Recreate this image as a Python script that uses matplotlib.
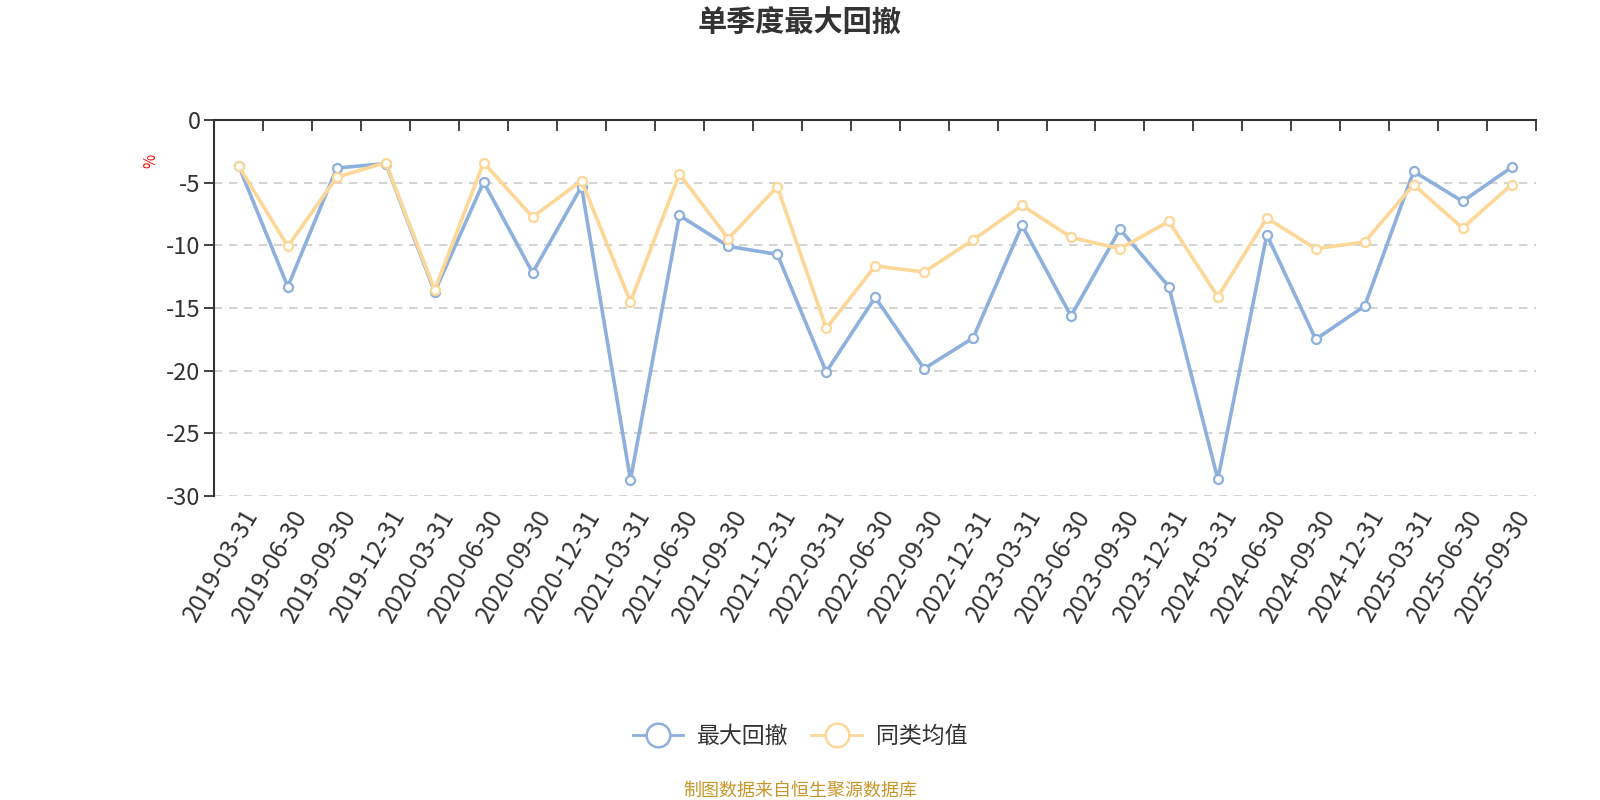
import numpy as np
import matplotlib.pyplot as plt
from matplotlib.lines import Line2D

plt.rcParams['font.family'] = ['Noto Sans CJK SC', 'DejaVu Sans']
plt.rcParams['axes.unicode_minus'] = False

# datos
fechas = ['2019-03-31', '2019-06-30', '2019-09-30', '2019-12-31',
          '2020-03-31', '2020-06-30', '2020-09-30', '2020-12-31',
          '2021-03-31', '2021-06-30', '2021-09-30', '2021-12-31',
          '2022-03-31', '2022-06-30', '2022-09-30', '2022-12-31',
          '2023-03-31', '2023-06-30', '2023-09-30', '2023-12-31',
          '2024-03-31', '2024-06-30', '2024-09-30', '2024-12-31',
          '2025-03-31', '2025-06-30', '2025-09-30']
max_huiche = [-3.7, -13.3, -3.83, -3.48, -13.72, -4.95, -12.18, -5.32,
              -28.72, -7.61, -10.08, -10.72, -20.1, -14.15, -19.84, -17.39,
              -8.4, -15.64, -8.72, -13.3, -28.67, -9.15, -17.5, -14.84,
              -4.1, -6.49, -3.78]
tonglei = [-3.7, -10.08, -4.57, -3.4, -13.56, -3.4, -7.74, -4.84,
           -14.52, -4.31, -9.47, -5.32, -16.62, -11.65, -12.13, -9.57,
           -6.81, -9.36, -10.27, -8.09, -14.1, -7.82, -10.27, -9.73,
           -5.16, -8.62, -5.16]
yticks = [0, -5, -10, -15, -20, -25, -30]

azul = '#8eb0dc'
naranja = '#fdd797'

fig = plt.figure(figsize=(16, 8), dpi=100)
ax = fig.add_axes([0.134, 0.38, 0.826, 0.47])

x = np.arange(len(fechas))
ax.plot(x, max_huiche, color=azul, lw=2.6, marker='o', ms=6.5,
        mfc='white', mec=azul, mew=1.6, zorder=3)
ax.plot(x, tonglei, color=naranja, lw=2.6, marker='o', ms=6.5,
        mfc='white', mec=naranja, mew=1.6, zorder=3)

ax.set_xlim(-0.5, len(fechas) - 0.5)
ax.set_ylim(-30, 0)

# lineas de cuadricula
for v in yticks[1:]:
    ax.axhline(v, color='#cccccc', lw=1.2, ls=(0, (5, 4)), zorder=1)

# ejes
for s in ['right', 'bottom']:
    ax.spines[s].set_visible(False)
ax.spines['top'].set_color('#333333')
ax.spines['top'].set_linewidth(1.5)
ax.spines['left'].set_color('#333333')
ax.spines['left'].set_linewidth(1.5)

ax.set_yticks(yticks)
ax.set_yticklabels([str(v) for v in yticks], fontsize=17, color='#333333')
ax.tick_params(axis='y', length=7, width=1.3, color='#333333', pad=3)

# marcas del eje x en la parte superior
ax.set_xticks(np.arange(-0.5, len(fechas), 1.0))
ax.tick_params(axis='x', which='major', top=True, bottom=False,
               labeltop=False, labelbottom=False, direction='in',
               length=8, width=1.3, color='#333333')
for i, f in enumerate(fechas):
    ax.text(i + 0.05, -30.7, f, rotation=60, ha='right', va='top',
            rotation_mode='anchor', fontsize=17.5, color='#333333')

ax.text(-0.048, 0.89, '%', transform=ax.transAxes, rotation=90,
        color='red', fontsize=11, ha='center', va='center')

fig.text(0.5, 0.972, '单季度最大回撤', ha='center', va='center',
         fontsize=21, fontweight='bold', color='#333333')

handles = [Line2D([0], [0], color=azul, lw=2, marker='o', ms=17,
                  mfc='white', mec=azul, mew=1.8),
           Line2D([0], [0], color=naranja, lw=2, marker='o', ms=17,
                  mfc='white', mec=naranja, mew=1.8)]
fig.legend(handles, ['最大回撤', '同类均值'], loc='center',
           bbox_to_anchor=(0.5, 0.079), ncol=2, frameon=False,
           fontsize=16.5, handlelength=2.2, columnspacing=1.0,
           handletextpad=0.6, labelcolor='#333333')

fig.text(0.5, 0.012, '制图数据来自恒生聚源数据库', ha='center',
         va='center', fontsize=13, color='#c8962a')

plt.savefig('out.png', dpi=100)
